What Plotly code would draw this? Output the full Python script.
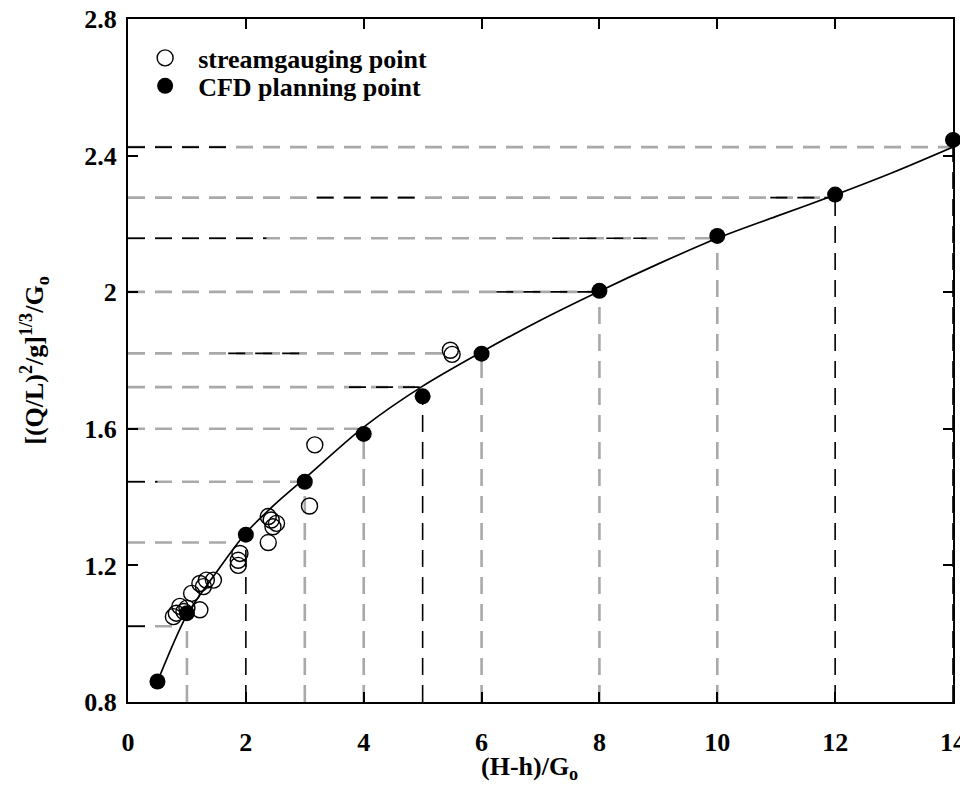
import plotly.graph_objects as go

# ---------------- data ----------------
cfd_x = [0.5, 1, 2, 3, 4, 5, 6, 8, 10, 12, 14]
cfd_y = [0.86, 1.06, 1.29, 1.445, 1.585, 1.695, 1.82, 2.004, 2.165, 2.286, 2.446]

gauge_x = [0.77, 0.82, 0.88, 0.95, 1.0, 1.08, 1.22, 1.22, 1.28, 1.33, 1.45,
           1.87, 1.87, 1.9, 2.38, 2.43, 2.52, 2.46, 2.38, 3.08, 3.17, 5.47, 5.5]
gauge_y = [1.05, 1.06, 1.08, 1.065, 1.075, 1.118, 1.07, 1.147, 1.138, 1.157, 1.157,
           1.20, 1.215, 1.235, 1.343, 1.333, 1.323, 1.313, 1.267, 1.374, 1.553, 1.83, 1.818]

curve_x = [0.5, 1, 1.5, 2, 2.5, 3, 4, 5, 6, 7, 8, 9, 10, 11, 12, 13, 14]
curve_y = [0.86, 1.055, 1.18, 1.295, 1.38, 1.455, 1.605, 1.725, 1.825, 1.918,
           2.003, 2.083, 2.158, 2.222, 2.285, 2.352, 2.425]

# horizontal projection lines: level and x where they stop
h_level = [2.425, 2.277, 2.158, 2.001, 1.821, 1.722, 1.600, 1.445, 1.267, 1.022]
h_end = [14, 12, 10, 8, 5.45, 4.95, 3.9, 2.95, 1.8, 0.85]

# vertical projection lines: x position and top value
v_x = [1, 2, 3, 4, 5, 6, 8, 10, 12, 14]
v_top = [1.06, 1.29, 1.445, 1.585, 1.695, 1.82, 2.004, 2.165, 2.286, 2.446]

x_ticks = [0, 2, 4, 6, 8, 10, 12, 14]
y_ticks = [0.8, 1.2, 1.6, 2.0, 2.4, 2.8]
y_ticktext = ["0.8", "1.2", "1.6", "2", "2.4", "2.8"]

x_title = "(H-h)/G<sub>o</sub>"
y_title = "[(Q/L)<sup>2</sup>/g]<sup>1/3</sup>/G<sub>o</sub>"

# ---------------- styles ----------------
GRAY = "#a9a9a9"
DASH = "17px,10px"
FONT = "Liberation Serif"
FS = 26
# dark overlay portions on the horizontal lines (x ranges), per line
h_dark = [[(0, 1.7)], [(3.2, 4.9), (10.9, 12)], [(0, 2.35), (7.2, 8.8)], [(6.25, 8)],
          [(1.7, 3.0)], [(3.75, 4.95)], [], [(0, 0.5)], [], [(0, 0.3)]]
v_dark = [False, True, False, False, True, False, False, False, True, True]

fig = go.Figure()

for lvl, xe, darks in zip(h_level, h_end, h_dark):
    fig.add_trace(go.Scatter(x=[0, xe], y=[lvl, lvl], mode="lines",
                             line=dict(color=GRAY, width=2.6, dash=DASH),
                             showlegend=False, hoverinfo="skip"))
    for a, b in darks:
        fig.add_trace(go.Scatter(x=[a, b], y=[lvl, lvl], mode="lines",
                                 line=dict(color="black", width=1.6, dash=DASH),
                                 showlegend=False, hoverinfo="skip"))

for xv, top, dark in zip(v_x, v_top, v_dark):
    fig.add_trace(go.Scatter(x=[xv, xv], y=[y_ticks[0], top], mode="lines",
                             line=dict(color="black" if dark else GRAY,
                                       width=1.6 if dark else 2.6, dash=DASH),
                             showlegend=False, hoverinfo="skip", cliponaxis=False))

fig.add_trace(go.Scatter(x=curve_x, y=curve_y, mode="lines",
                         line=dict(color="black", width=1.7, shape="spline", smoothing=0.8),
                         showlegend=False, hoverinfo="skip"))

fig.add_trace(go.Scatter(x=gauge_x, y=gauge_y, mode="markers", name="streamgauging point",
                         marker=dict(symbol="circle-open", size=16, color="black",
                                     line=dict(width=1.4, color="black")),
                         cliponaxis=False, legend="legend"))
fig.add_trace(go.Scatter(x=cfd_x, y=cfd_y, mode="markers", name="CFD planning point",
                         marker=dict(symbol="circle", size=16, color="black"),
                         cliponaxis=False, legend="legend2"))

title_font = dict(family=FONT, size=FS, color="black", weight="bold")
axis_common = dict(showline=True, linewidth=2, linecolor="black", mirror="allticks",
                   ticks="inside", ticklen=10, tickwidth=2, tickcolor="black",
                   showgrid=False, zeroline=False, ticklabeloverflow="allow",
                   automargin=False,
                   tickfont=dict(family=FONT, size=FS, color="black", weight="bold"))

fig.update_xaxes(range=[0, 14], tickvals=x_ticks, ticklabelstandoff=16, **axis_common)
fig.update_yaxes(range=[0.8, 2.8001], tickvals=y_ticks, ticktext=y_ticktext,
                 ticklabelstandoff=4,
                 title=dict(text=y_title, standoff=33, font=title_font),
                 **axis_common)

# x-axis title as a paper-positioned annotation (below the tick labels)
fig.add_annotation(text=x_title, xref="paper", yref="paper", x=0.487, y=-0.097,
                   xanchor="center", yanchor="middle", showarrow=False, font=title_font)

legend_common = dict(xanchor="left", yanchor="middle", itemwidth=56,
                     bgcolor="rgba(0,0,0,0)", borderwidth=0,
                     font=dict(family=FONT, size=FS, color="black", weight="bold"))

# figure placed after the page's default 8px body margin so the window is filled
fig.update_layout(
    width=960, height=773,
    margin=dict(l=120, r=15, t=11, b=79, autoexpand=False),
    plot_bgcolor="white", paper_bgcolor="white",
    legend=dict(x=0.005, y=0.943, **legend_common),
    legend2=dict(x=0.005, y=0.902, **legend_common),
)

fig.write_html(
    "out.html",
    config={"displayModeBar": False},
    post_script=("document.querySelectorAll('.main-svg, .svg-container')"
                 ".forEach(function(s){s.style.overflow='visible';});"),
)
